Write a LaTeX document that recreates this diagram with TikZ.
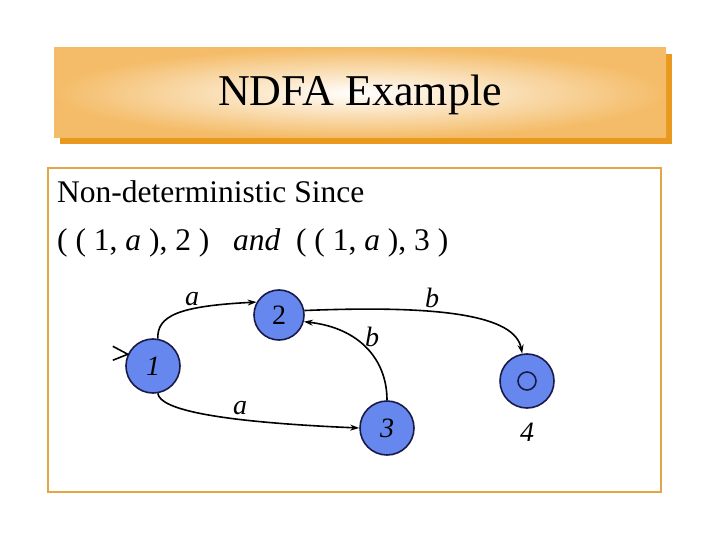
\documentclass[tikz,border=0pt]{standalone}
\usepackage{fontspec}
\setmainfont{Liberation Serif}
\usetikzlibrary{arrows.meta,calc}
\definecolor{titleorange}{HTML}{F4BC68}
\definecolor{shadoworange}{HTML}{E8991E}
\definecolor{boxorange}{HTML}{E2A646}
\definecolor{nodeblue}{HTML}{6688EE}
\definecolor{nodeline}{HTML}{1A1A4A}
\begin{document}
\begin{tikzpicture}[x=1pt,y=-1pt,
  state/.style={circle,draw=nodeline,line width=1.6pt,fill=nodeblue,minimum size=54pt,inner sep=0pt,font=\fontsize{28}{30}\selectfont},
  trans/.style={line width=1.6pt,-{Stealth[length=9pt,width=6pt]}},
  lab/.style={font=\fontsize{28}{30}\selectfont\itshape,inner sep=0pt},
  body/.style={font=\fontsize{31.5}{34}\selectfont,anchor=base west,inner sep=0pt}]
\useasboundingbox (0,0) rectangle (720,540);
\fill[white] (0,0) rectangle (720,540);
% title
\fill[shadoworange] (60,54) rectangle (672,144);
\shade[inner color=white,outer color=titleorange] (54,48) rectangle (666,138);
\node[font=\fontsize{44}{48}\selectfont,inner sep=0pt] (title) at (360,95) {NDFA Example};
% content box
\draw[boxorange,line width=1.5pt] (48,168) rectangle (661,492);
\node[body] (l1) at (57,203) {Non-deterministic Since};
\node[body] (l2) at (57,250) {( ( 1, \textit{a} ), 2 ) \ \ \textit{and} \ ( ( 1, \textit{a} ), 3 )\kern2pt};
% states
\node[state] (n1) at (153,366) {\itshape 1};
\node[state,minimum size=50pt] (n2) at (279,315) {2};
\node[state] (n3) at (387,428) {\itshape 3};
\node[state] (n4) at (527,381) {};
\draw[nodeline,line width=1.6pt] (n4.center) circle (9pt);
\node[lab] (l4) at (527,432) {4};
% start arrow
\coordinate (st) at (n1.155);
\draw[line width=1.6pt] ($(st)+(-15,-8)$) -- (st) -- ($(st)+(-15,6)$);
% transitions
\draw[trans] (n1.-80) .. controls (160,410) and (220,422) .. (n3.west);
\draw[trans] (n1.80) .. controls (157,316) and (178,306) .. (n2.150);
\draw[trans] (n3.north) .. controls (387,360) and (360,328) .. (n2.-15);
\draw[trans] (n2.10) .. controls (440,305) and (515,315) .. (n4.100);
\node[lab] (a1) at (192,299) {a};
\node[lab] (a2) at (240,408) {a};
\node[lab] (b1) at (372,337) {b};
\node[lab] (b2) at (432,298) {b};
\end{tikzpicture}
\end{document}
